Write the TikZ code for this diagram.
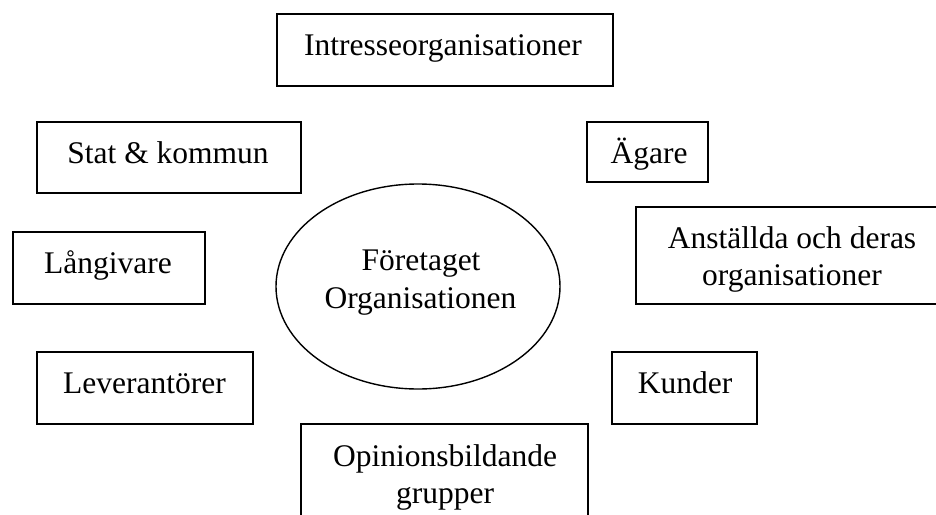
\documentclass[tikz,border=0pt]{standalone}
\usepackage{fontspec}
\setmainfont{Liberation Serif}
\usetikzlibrary{shapes.geometric}
\tikzset{
  box/.style={draw, line width=1.4pt, rectangle, inner sep=0pt},
  oval/.style={draw, line width=1.4pt, ellipse, inner sep=0pt},
  txt/.style={anchor=base, inner sep=0pt, font=\fontsize{31.5}{37}\selectfont},
}
\begin{document}
\begin{tikzpicture}[x=1pt,y=-1pt]
\useasboundingbox (0,0) rectangle (936,514);
\clip (0,0) rectangle (936,514);
\fill[white] (0,0) rectangle (936,514);
% boxes
\node[box, minimum width=336pt, minimum height=72pt] (intr) at (445,50) {};
\node[box, minimum width=264pt, minimum height=71pt] (stat) at (169,157.5) {};
\node[box, minimum width=121pt, minimum height=60pt] (agare) at (647.5,152) {};
\node[box, minimum width=192pt, minimum height=72pt] (lang) at (109,268) {};
\node[box, minimum width=312pt, minimum height=97pt] (anst) at (792,255.5) {};
\node[box, minimum width=216pt, minimum height=72pt] (lev) at (145,388) {};
\node[box, minimum width=145pt, minimum height=72pt] (kund) at (684.5,388) {};
\node[box, minimum width=287pt, minimum height=106pt] (opin) at (444.5,477) {};
\node[oval, minimum width=284pt, minimum height=205pt] (foret) at (418,286.5) {};
% texts
\node[txt] (tintr) at (443,55) {Intresseorganisationer};
\node[txt] (tstat) at (168,163) {Stat \& kommun};
\node[txt] (tagare) at (649,163) {Ägare};
\node[txt] (tlang) at (108,273) {Långivare};
\node[txt] (tanst1) at (792,248) {Anställda och deras};
\node[txt] (tanst2) at (792,285) {organisationer};
\node[txt] (tforet1) at (421,270) {Företaget};
\node[txt] (tforet2) at (420.5,308) {Organisationen};
\node[txt] (tlev) at (144.5,393) {Leverantörer};
\node[txt] (tkund) at (685,393) {Kunder};
\node[txt] (topin1) at (445,466) {Opinionsbildande};
\node[txt] (topin2) at (445,503) {grupper};
\end{tikzpicture}
\end{document}
